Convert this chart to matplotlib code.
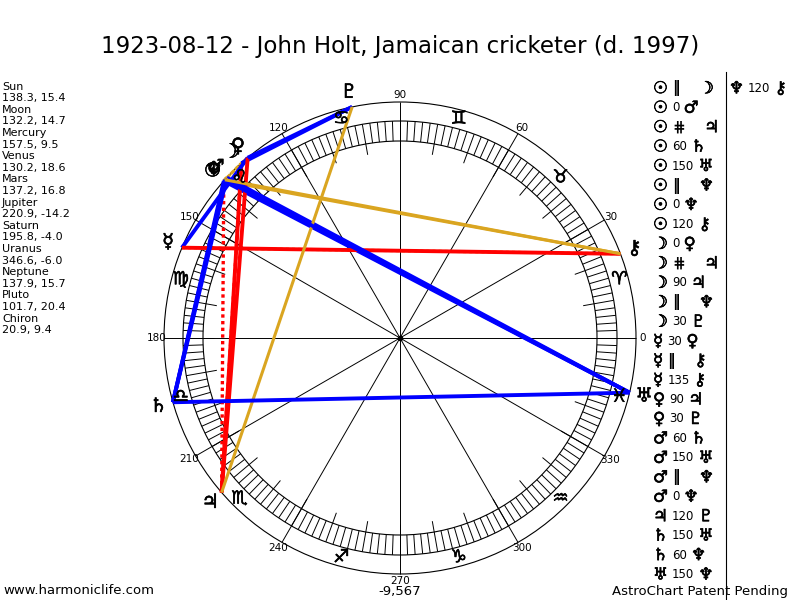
import numpy as np
import matplotlib
matplotlib.use("Agg")
import matplotlib.pyplot as plt
import matplotlib.patheffects as pe
from matplotlib.patches import Circle
from matplotlib.collections import LineCollection
from matplotlib.offsetbox import TextArea, HPacker, DrawingArea, AnnotationBbox

# ---- chart data ----
title = "1923-08-12 - John Holt, Jamaican cricketer (d. 1997)"
planets = ["Sun", "Moon", "Mercury", "Venus", "Mars", "Jupiter",
           "Saturn", "Uranus", "Neptune", "Pluto", "Chiron"]
glyphs = ["☉", "☽", "☿", "♀", "♂", "♃", "♄", "♅", "♆", "♇", "⚷"]
longitude = [138.3, 132.2, 157.5, 130.2, 137.2, 220.9, 195.8, 346.6, 137.9, 101.7, 20.9]
declination = [15.4, 14.7, 9.5, 18.6, 16.8, -14.2, -4.0, -6.0, 15.7, 20.4, 9.4]
signs = ["♈", "♉", "♊", "♋", "♌", "♍", "♎", "♏", "♐", "♑", "♒", "♓"]
degree_labels = list(range(0, 360, 30))
bottom_number = "-9,567"

# aspect list (first column)
asp_a = ["Sun"] * 8 + ["Moon"] * 5 + ["Mercury"] * 3 + ["Venus"] * 2 + ["Mars"] * 4 + \
        ["Jupiter", "Saturn", "Saturn", "Uranus"]
asp_kind = ["par", "0", "cpar", "60", "150", "par", "0", "120",
            "0", "cpar", "90", "par", "30",
            "30", "par", "135",
            "90", "30",
            "60", "150", "par", "0",
            "120", "150", "60", "150"]
asp_b = ["Moon", "Mars", "Jupiter", "Saturn", "Uranus", "Neptune", "Neptune", "Chiron",
         "Venus", "Jupiter", "Jupiter", "Neptune", "Pluto",
         "Venus", "Chiron", "Chiron",
         "Jupiter", "Pluto",
         "Saturn", "Uranus", "Neptune", "Neptune",
         "Pluto", "Uranus", "Neptune", "Neptune"]
# second column
asp2_a = ["Neptune"]
asp2_kind = ["120"]
asp2_b = ["Chiron"]

# ---- styles ----
BLUE, RED, GOLD = "#0000ff", "#ff0000", "#daa520"
line_style = {
    "0": (GOLD, "-", 2.2),
    "30": (BLUE, "-", 2.8),
    "60": (BLUE, "-", 2.8),
    "90": (RED, "-", 2.8),
    "120": (GOLD, "-", 2.2),
    "135": (RED, "-", 2.8),
    "150": (BLUE, "-", 2.8),
    "par": (GOLD, (0, (1, 1)), 2.2),
    "cpar": (RED, (0, (1, 1)), 2.4),
}
kind_text = {"par": "‖", "cpar": "⋕"}

R_OUT = 236     # outer circle, aspect line ends
R_BAND_OUT = 217
R_BAND_IN = 197
R_TICK = 186
R_SIGN = 227
R_LABEL = 243
R_GLYPH = 251

lon_of = dict(zip(planets, longitude))
glyph_of = dict(zip(planets, glyphs))
bold = [pe.withStroke(linewidth=0.45, foreground="black")]


def polar(deg, r):
    t = np.radians(deg)
    return r * np.cos(t), r * np.sin(t)


def ypix(p):
    # pixel row from top -> data y (chart centre at row 338)
    return 338 - p


def xpix(p):
    return p - 400


fig = plt.figure(figsize=(8, 6), dpi=100)
ax = fig.add_axes([0, 0, 1, 1])
ax.set_xlim(-400, 400)
ax.set_ylim(-262, 338)
ax.axis("off")

# wheel
for r in [R_OUT, R_BAND_OUT, R_BAND_IN]:
    ax.add_patch(Circle((0, 0), r, fill=False, ec="black", lw=0.8))

hatch = [[polar(d, R_BAND_IN), polar(d, R_BAND_OUT)] for d in range(0, 360, 2)]
ax.add_collection(LineCollection(hatch, colors="black", linewidths=0.7))
ticks = [[polar(d, R_TICK), polar(d, R_BAND_IN)] for d in range(0, 360, 10)]
ax.add_collection(LineCollection(ticks, colors="black", linewidths=0.7))
spokes = [[(0, 0), polar(d, R_OUT)] for d in degree_labels]
ax.add_collection(LineCollection(spokes, colors="black", linewidths=0.7))
ax.plot(0, 0, "o", ms=3, color="black")

for d in degree_labels:
    ax.text(*polar(d, R_LABEL), str(d), ha="center", va="center", fontsize=7.5)

for i, s in enumerate(signs):
    ax.text(*polar(15 + 30 * i, R_SIGN), s, ha="center", va="center", fontsize=13,
            path_effects=bold)

# aspect lines
for a, k, b in zip(asp_a + asp2_a, asp_kind + asp2_kind, asp_b + asp2_b):
    col, ls, lw = line_style[k]
    x0, y0 = polar(lon_of[a], R_OUT)
    x1, y1 = polar(lon_of[b], R_OUT)
    ax.plot([x0, x1], [y0, y1], color=col, ls=ls, lw=lw, solid_capstyle="butt")

# planet glyphs around the wheel
for g, lon in zip(glyphs, longitude):
    ax.text(*polar(lon, R_GLYPH), g, ha="center", va="center", fontsize=14,
            path_effects=bold)

# title and footer
ax.text(0, ypix(47), title, ha="center", va="center", fontsize=16.5)
ax.text(xpix(3), ypix(591), "www.harmoniclife.com", ha="left", va="center", fontsize=9.5)
ax.text(xpix(788), ypix(591), "AstroChart Patent Pending", ha="right", va="center", fontsize=9.5)
ax.text(0, ypix(591), bottom_number, ha="center", va="center", fontsize=9.5)

# planet positions column
row = 0
for name, lon, dec in zip(planets, longitude, declination):
    for line in [name, f"{lon:.1f}, {dec:.1f}"]:
        ax.text(xpix(2), ypix(86.7 + 11.59 * row), line, ha="left", va="center", fontsize=8)
        row += 1


# aspect list
def aspect_row(a, k, b, x, y):
    g_props = dict(fontsize=12, color="black", path_effects=bold)
    parts = [TextArea(glyph_of[a], textprops=g_props)]
    if k in kind_text:
        parts.append(TextArea(kind_text[k], textprops=dict(fontsize=11, fontweight="bold")))
        parts.append(DrawingArea(8, 1))
    else:
        parts.append(TextArea(k, textprops=dict(fontsize=8.5)))
    parts.append(TextArea(glyph_of[b], textprops=g_props))
    box = HPacker(children=parts, sep=3, pad=0, align="center")
    ab = AnnotationBbox(box, (x, y), xycoords="data", box_alignment=(0, 0.5),
                        frameon=False, pad=0)
    ax.add_artist(ab)


for i, (a, k, b) in enumerate(zip(asp_a, asp_kind, asp_b)):
    aspect_row(a, k, b, xpix(653), ypix(88.3 + 19.45 * i))
for i, (a, k, b) in enumerate(zip(asp2_a, asp2_kind, asp2_b)):
    aspect_row(a, k, b, xpix(729), ypix(88.3 + 19.45 * i))

ax.plot([xpix(725.5), xpix(725.5)], [ypix(72), ypix(600)], color="black", lw=0.8)

fig.savefig("out.png", dpi=100)
